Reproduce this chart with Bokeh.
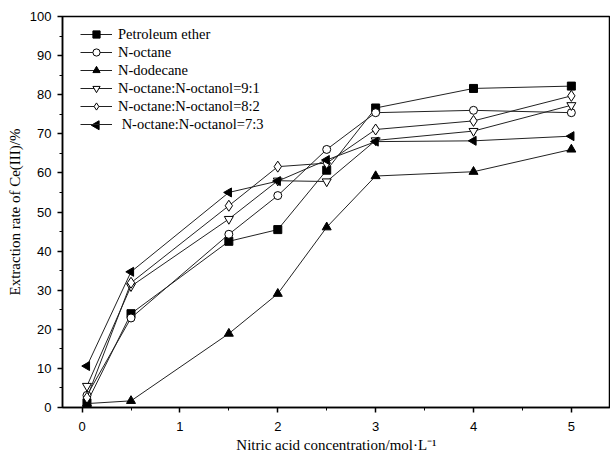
import math
from bokeh.plotting import figure
from bokeh.models import Legend, LegendItem, Range1d, FixedTicker, ColumnDataSource
from bokeh.embed import file_html
from bokeh.resources import INLINE

x = [0.05, 0.5, 1.5, 2.0, 2.5, 3.0, 4.0, 5.0]
petroleum_ether = [1.2, 24.0, 42.5, 45.5, 60.7, 76.6, 81.6, 82.2]
n_octane = [3.1, 22.9, 44.3, 54.2, 66.0, 75.4, 76.0, 75.4]
n_dodecane = [1.0, 1.7, 18.9, 29.1, 46.1, 59.2, 60.3, 66.0]
ratio_9_1 = [5.5, 31.0, 48.2, 58.0, 57.8, 68.3, 70.7, 77.3]
ratio_8_2 = [2.5, 31.9, 51.6, 61.6, 62.5, 71.1, 73.3, 79.7]
ratio_7_3 = [10.6, 34.7, 55.0, 57.9, 63.3, 68.0, 68.2, 69.4]

labels = ["Petroleum ether", "N-octane", "N-dodecane",
          "N-octane:N-octanol=9:1", "N-octane:N-octanol=8:2",
          " N-octane:N-octanol=7:3"]

W, H = 610, 455
BL, BT, BB = 62, 16, 47
FW, FH = W - BL, H - BT - BB

p = figure(width=W, height=H, output_backend="svg", toolbar_location=None,
           x_range=Range1d(-0.2, 5.4), y_range=Range1d(0, 100),
           min_border_left=BL, min_border_right=0, min_border_top=BT,
           min_border_bottom=BB)
p.extra_x_ranges = {"px": Range1d(0, FW)}
p.extra_y_ranges = {"py": Range1d(0, FH)}
p.grid.visible = False
p.outline_line_color = "black"
p.outline_line_width = 1.5

for ax in (p.xaxis[0], p.yaxis[0]):
    ax.axis_line_width = 1.5
    ax.major_tick_line_width = 1.5
    ax.minor_tick_line_width = 1
    ax.major_tick_out = 5
    ax.major_tick_in = 0
    ax.minor_tick_out = 3
    ax.minor_tick_in = 0
    ax.major_label_text_font = "Liberation Sans"
    ax.major_label_text_font_size = "13px"
    ax.major_label_text_color = "black"
    ax.axis_label_text_font = "Liberation Serif"
    ax.axis_label_text_font_size = "15px"
    ax.axis_label_text_font_style = "normal"
    ax.axis_label_text_color = "black"

p.xaxis.ticker = FixedTicker(ticks=[0, 1, 2, 3, 4, 5],
                             minor_ticks=[0, 0.5, 1, 1.5, 2, 2.5, 3, 3.5, 4, 4.5, 5])
p.yaxis.ticker = FixedTicker(ticks=list(range(0, 101, 10)),
                             minor_ticks=list(range(0, 101, 5)))
p.xaxis.axis_label = "Nitric acid concentration/mol\u00b7L\u207b\u00b9"
p.yaxis.axis_label = "Extraction rate of Ce(III)/%"
p.xaxis.major_label_standoff = 9
p.yaxis.major_label_standoff = 6
p.xaxis.axis_label_standoff = 3
p.yaxis.axis_label_standoff = 4

series = [
    (petroleum_ether, "square", "black", 8, 0.0),
    (n_octane, "circle", "white", 8, 0.0),
    (n_dodecane, "triangle", "black", 9, 0.0),
    (ratio_9_1, "inverted_triangle", "white", 9, 0.0),
    (ratio_8_2, "diamond", "white", 11, 0.0),
    (ratio_7_3, "triangle", "black", 9, math.pi / 2),
]

LEG_X, LEG_Y, ROW, GW = 18, 274, 18, 32

items = []
for k, ((ys, marker, fill, size, angle), lab) in enumerate(zip(series, labels)):
    src = ColumnDataSource(dict(x=x, y=ys))
    ln = p.line("x", "y", source=src, line_color="#222222", line_width=1)
    sc = p.scatter("x", "y", source=src, marker=marker, size=size, angle=angle,
                   fill_color=fill, line_color="black", line_width=1)
    if angle != 0.0:
        # legend key for a rotated marker (legend keys ignore angle)
        row = len(series) - 1 - k
        p.scatter([LEG_X + GW / 2], [LEG_Y + ROW * row + ROW / 2],
                  x_range_name="px", y_range_name="py",
                  marker=marker, size=size, angle=angle,
                  fill_color=fill, line_color="black", line_width=1)
        items.append(LegendItem(label=lab, renderers=[ln]))
    else:
        items.append(LegendItem(label=lab, renderers=[ln, sc]))

legend = Legend(items=items, location=(LEG_X, LEG_Y))
legend.border_line_color = None
legend.background_fill_alpha = 0
legend.padding = 0
legend.margin = 0
legend.spacing = 0
legend.glyph_width = GW
legend.glyph_height = ROW
legend.label_height = ROW
legend.label_standoff = 6
legend.label_text_font = "Liberation Serif"
legend.label_text_font_size = "14.5px"
legend.label_text_color = "black"
p.add_layout(legend)

open("out.html", "w").write(file_html(p, INLINE))
